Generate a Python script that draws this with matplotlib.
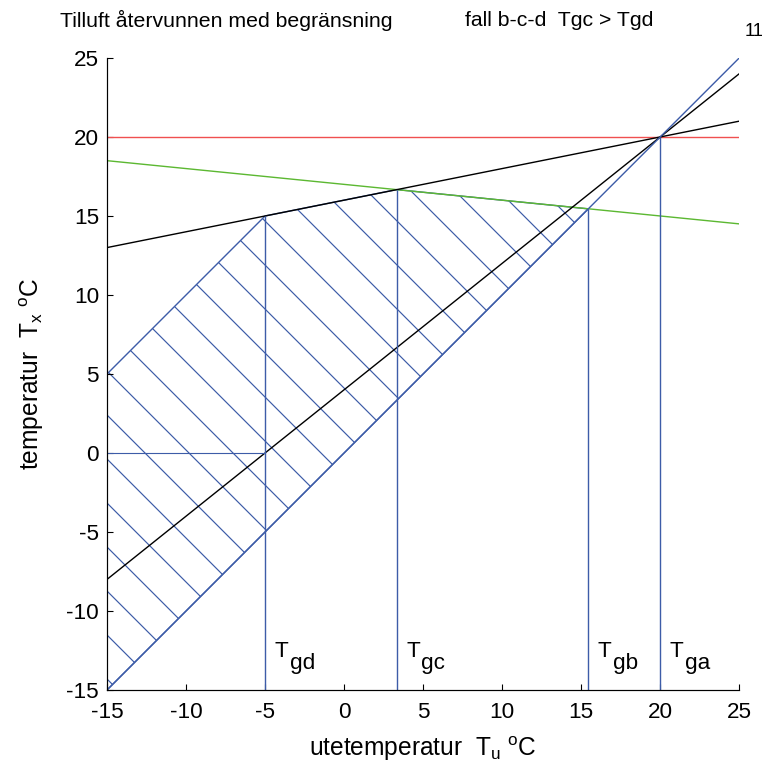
import matplotlib.pyplot as plt

plt.rcParams['font.family'] = ['Liberation Sans', 'DejaVu Sans']
plt.rcParams['mathtext.fontset'] = 'custom'
plt.rcParams['mathtext.rm'] = 'Liberation Sans'
plt.rcParams['mathtext.it'] = 'Liberation Sans'
plt.rcParams['axes.unicode_minus'] = False

# data
x_ends = [-15, 25]
red_y = [20, 20]
green_y = [18.5, 14.5]
black1_y = [13, 21]
black2_y = [-8, 24]
diag_y = [-15, 25]

hatch_x = [-15, -15, -5, 3.33, 15.45]
hatch_y = [-15, 5, 15, 16.67, 15.45]

tg_x = [-5, 3.33, 15.45, 20]
tg_top = [15, 16.67, 15.45, 20]
tg_names = ['gd', 'gc', 'gb', 'ga']

zero_x = [-15, -5]
zero_y = [0, 0]

blue = '#3d5ca8'
dpi = 132  # hatch spacing follows dpi


def pt(px):
    return px * 72 / dpi


plt.rcParams['hatch.linewidth'] = pt(1.2)
lw = pt(1.4)

fig = plt.figure(figsize=(770 / dpi, 775 / dpi), dpi=dpi)
ax = fig.add_axes([0.139, 0.1097, 0.821, 0.8155])

ax.fill(hatch_x, hatch_y, facecolor='none', edgecolor=blue, hatch='\\', lw=lw)
ax.plot(x_ends, red_y, color='#f05050', lw=lw)
ax.plot(x_ends, green_y, color='#5cb832', lw=lw)
ax.plot(x_ends, black1_y, color='black', lw=lw)
ax.plot(x_ends, black2_y, color='black', lw=lw)
ax.plot(x_ends, diag_y, color=blue, lw=lw)
ax.plot(zero_x, zero_y, color=blue, lw=lw * 0.8)
ax.vlines(tg_x, -15, tg_top, color=blue, lw=lw)
for x, name in zip(tg_x, tg_names):
    ax.annotate('T', (x, -12.9), xytext=(pt(9.6), 0), textcoords='offset points',
                fontsize=pt(22.5), va='baseline', ha='left')
    ax.annotate(name, (x, -12.9), xytext=(pt(24.5), pt(-12)), textcoords='offset points',
                fontsize=pt(22.5), va='baseline', ha='left')

ax.set_xlim(-15, 25)
ax.set_ylim(-15, 25)
ax.set_xticks(range(-15, 26, 5))
ax.set_yticks(range(-15, 26, 5))
ax.tick_params(direction='in', length=pt(6), width=pt(1.1), labelsize=pt(22.5))
ax.tick_params(axis='x', pad=pt(12.5))
ax.tick_params(axis='y', pad=pt(8))
for s in ['left', 'bottom']:
    ax.spines[s].set_linewidth(pt(1.2))
ax.spines['top'].set_visible(False)
ax.spines['right'].set_visible(False)
ax.set_xlabel(r'utetemperatur  T$_{\mathregular{u}}$ $^{\mathregular{o}}$C',
              fontsize=pt(24.5), labelpad=pt(11))
ax.set_ylabel(r'temperatur  T$_{\mathregular{x}}$ $^{\mathregular{o}}$C',
              fontsize=pt(24.5), labelpad=pt(20))

fig.text(60 / 770, 1 - 20 / 775, 'Tilluft återvunnen med begränsning',
         fontsize=pt(21.2), va='center', ha='left')
fig.text(465 / 770, 1 - 20 / 775, 'fall b-c-d  Tgc > Tgd',
         fontsize=pt(21.2), va='center', ha='left')
fig.text(745 / 770, 1 - 31 / 775, '11', fontsize=pt(18.4), va='center', ha='left')

fig.savefig('out.png', dpi=dpi)
